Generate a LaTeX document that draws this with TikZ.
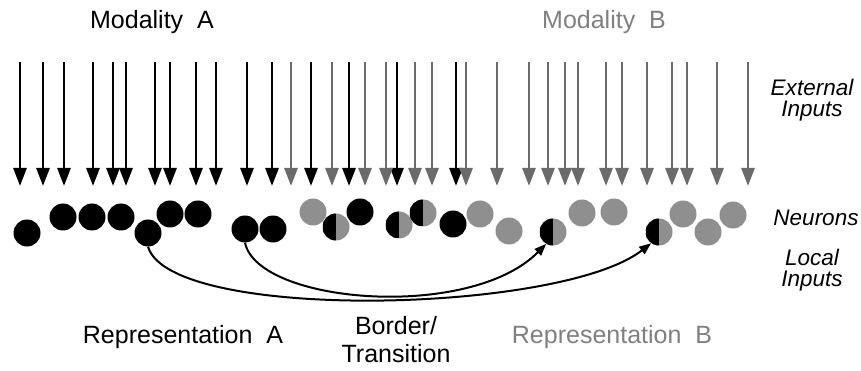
\documentclass[tikz,border=0pt]{standalone}
\usepackage{fontspec}
\setmainfont{Liberation Sans}
\usetikzlibrary{arrows.meta}
\definecolor{arrowB}{gray}{0.42}
\definecolor{cellB}{gray}{0.56}
\definecolor{textB}{gray}{0.5}
\tikzstyle{inA}=[line width=2.8pt, draw=black, -{Triangle[width=13pt,length=18pt]}]
\tikzstyle{inB}=[line width=2.8pt, draw=arrowB, -{Triangle[width=13pt,length=18pt]}]
\tikzstyle{label}=[font=\fontsize{25}{28}\selectfont, align=center]
\tikzstyle{side}=[font=\fontsize{22.5}{21}\selectfont\itshape, align=center]

\begin{document}
\begin{tikzpicture}[x=1pt, y=-1pt,
        cellA/.style={circle, fill=black, minimum size=27pt, inner sep=0pt},
        cellB/.style={circle, fill=cellB, minimum size=27pt, inner sep=0pt},
        cellAB/.style={circle, fill=cellB, minimum size=27pt, inner sep=0pt,
            path picture={\fill[black] (path picture bounding box.south west) rectangle (path picture bounding box.north);}},
        local/.style={line width=2pt, -{Triangle[width=9pt,length=12pt]}}
    ]
        \useasboundingbox (0,0) rectangle (861,371);

        % external inputs
        \foreach \x in {20,43,64,93,113,126,155,170,196,216,247,272,311,349,397,456} {
            \coordinate (topA\x) at (\x,62);
            \coordinate (endA\x) at (\x,186);
            \draw[inA] (topA\x) -- (endA\x);
        }
        \foreach \x in {291,332,365,386,415,432,466,497,529,548,565,578,606,622,647,672,687,717,748} {
            \coordinate (topB\x) at (\x,62);
            \coordinate (endB\x) at (\x,186);
            \draw[inB] (topB\x) -- (endB\x);
        }

        % neurons
        \node (a1) [cellA] at (27,233) {};
        \node (a2) [cellA] at (63,217) {};
        \node (a3) [cellA] at (92,217) {};
        \node (a4) [cellA] at (121,217) {};
        \node (a5) [cellA] at (148,233) {};
        \node (a6) [cellA] at (170,214) {};
        \node (a7) [cellA] at (198,214) {};
        \node (a8) [cellA] at (245,229) {};
        \node (a9) [cellA] at (273,229) {};
        \node (t1) [cellB] at (313,212) {};
        \node (t2) [cellAB] at (336,227) {};
        \node (t3) [cellA] at (360,212) {};
        \node (t4) [cellAB] at (399,225) {};
        \node (t5) [cellAB] at (423,213) {};
        \node (t6) [cellA] at (453,224) {};
        \node (t7) [cellB] at (480,214) {};
        \node (t8) [cellB] at (509,231) {};
        \node (b1) [cellAB] at (553,232) {};
        \node (b2) [cellB] at (582,213) {};
        \node (b3) [cellB] at (614,212) {};
        \node (b4) [cellAB] at (659,232) {};
        \node (b5) [cellB] at (683,214) {};
        \node (b6) [cellB] at (708,232) {};
        \node (b7) [cellB] at (733,215) {};

        % local inputs
        \draw [local] (a5.south) .. controls (170,322) and (560,314) .. (b4.235);
        \draw [local] (a8.south) .. controls (258,304) and (470,321) .. (b1.240);

        % labels
        \node (modA) [label] at (152,22) {Modality\ \ A};
        \node (modB) [label, text=textB] at (604,22) {Modality\ \ B};
        \node (repA) [label] at (183,337) {Representation\ \ A};
        \node (border) [label] at (396,340) {Border/\\Transition};
        \node (repB) [label, text=textB] at (612,337) {Representation\ \ B};
        \node (ext) [side] at (812,100) {External\\Inputs};
        \node (neur) [side] at (816,218) {Neurons};
        \node (loc) [side] at (812,270) {Local\\Inputs};
    \end{tikzpicture}
\end{document}
